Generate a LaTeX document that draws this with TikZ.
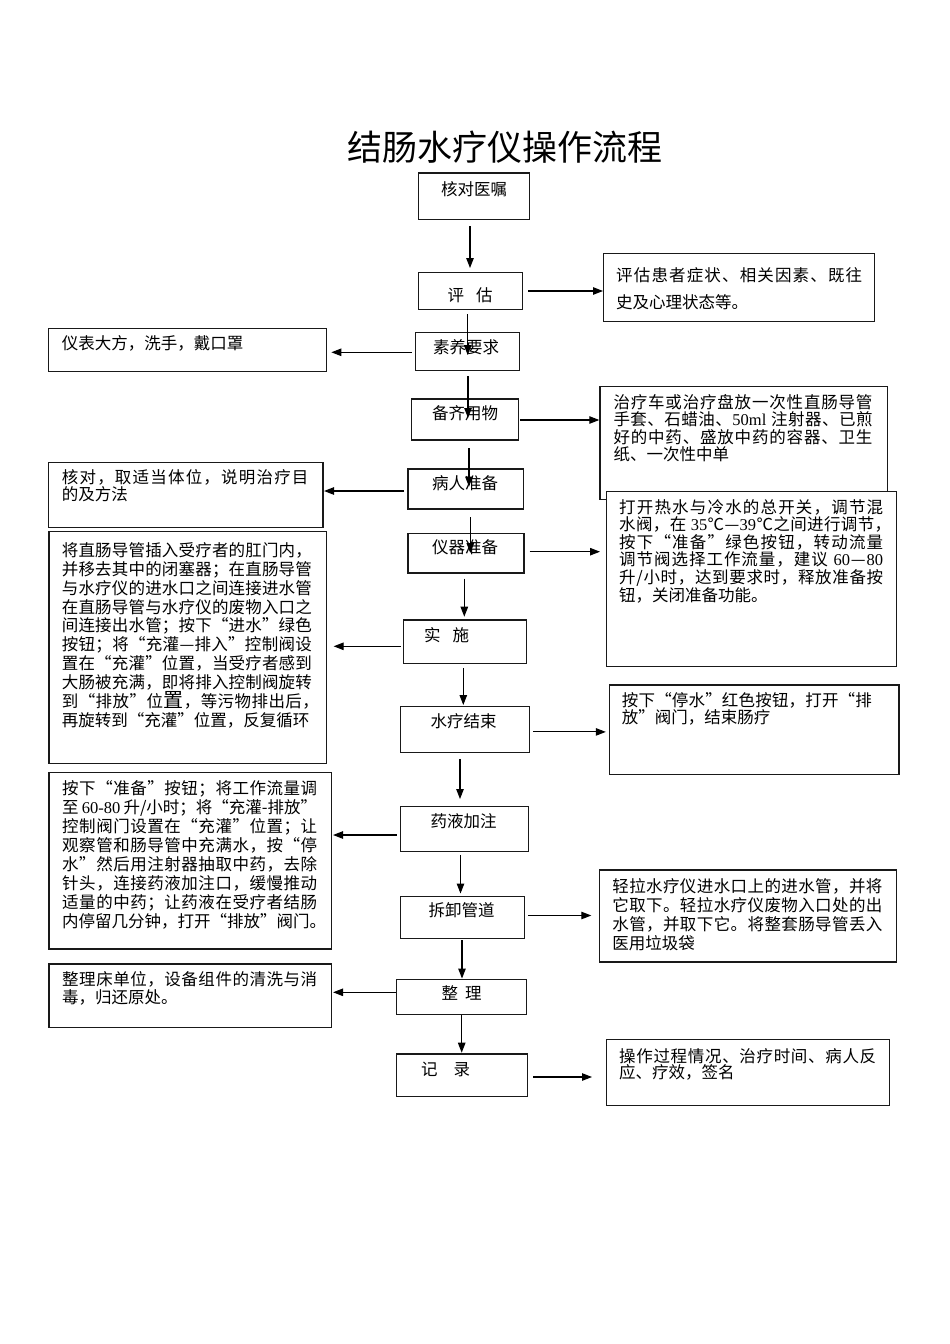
\documentclass[tikz,border=0pt]{standalone}
\usepackage{fontspec}
\setmainfont{Noto Sans CJK SC}
\newfontfamily\latf{Liberation Serif}
\usetikzlibrary{arrows.meta}
\newcommand\lat[1]{{\latf #1}}
% justified line: spreads its items over the given width
\def\jlx#1{#1\jly}
\def\jly#1{\ifx\relax#1\else\hfil#1\expandafter\jly\fi}
\newcommand\jl[2]{\hbox to #1pt{\jlx#2\relax}}
\newcommand\pl[1]{\hbox{#1}}
\newcommand\tl[2]{\vtop{\baselineskip=#1pt\relax\lineskiplimit=-20pt\relax #2}}
\tikzset{
  box/.style={draw=black!90, line width=1.35pt, fill=white, anchor=north west, inner sep=0pt},
  lab/.style={inner sep=0pt, anchor=base, font=\fontsize{16.5}{18}\selectfont},
  tx/.style={inner sep=0pt, anchor=base west, font=\fontsize{16.5}{18}\selectfont},
  arr/.style={-{Triangle[length=10pt,width=7.5pt]}, line width=1.05pt, draw=black}
}
\begin{document}
\begin{tikzpicture}[x=1pt,y=-1pt]
\fill[white] (0,0) rectangle (950,1344);
\useasboundingbox (0,0) rectangle (950,1344);

% title
\node[inner sep=0pt, anchor=base, font=\fontsize{35}{35}\selectfont] (title) at (505,160.5) {结肠水疗仪操作流程};

% middle boxes
\node[box, minimum width=111.3pt, minimum height=46.7pt] (m1) at (417.7,172.3) {};
\node[box, minimum width=104.3pt, minimum height=37pt] (m2) at (417.7,271.7) {};
\node[box, minimum width=104pt, minimum height=38.3pt] (m3) at (415,331.7) {};
\node[box, minimum width=106.7pt, minimum height=41pt] (m4) at (411,398.3) {};
\node[box, minimum width=115.4pt, minimum height=40pt] (m5) at (407.3,468.3) {};
\node[box, minimum width=116pt, minimum height=39.6pt] (m6) at (407.3,532.7) {};
\node[box, minimum width=123.3pt, minimum height=43.4pt] (m7) at (402.7,619.3) {};
\node[box, minimum width=129pt, minimum height=45.5pt] (m8) at (399.5,706) {};
\node[box, minimum width=128.5pt, minimum height=45.5pt] (m9) at (399.5,805.5) {};
\node[box, minimum width=124pt, minimum height=42pt] (m10) at (399.5,895.5) {};
\node[box, minimum width=130pt, minimum height=35.2pt] (m11) at (396,978.5) {};
\node[box, minimum width=131.5pt, minimum height=42.3pt] (m12) at (395.5,1053.3) {};

\node[lab] (m1t) at (474,195.3) {核对医嘱};
\node[lab] (m2t) at (470,301.3) {评\hspace{12pt}估};
\node[lab] (m3t) at (466,353) {素养要求};
\node[lab] (m4t) at (465,419.6) {备齐用物};
\node[lab] (m5t) at (465,489.6) {病人准备};
\node[lab] (m6t) at (465,553.6) {仪器准备};
\node[lab, anchor=base west] (m7t) at (424,641.3) {实\hspace{12pt}施};
\node[lab] (m8t) at (463.7,727) {水疗结束};
\node[lab] (m9t) at (463.5,827.3) {药液加注};
\node[lab] (m10t) at (461.7,916.8) {拆卸管道};
\node[lab] (m11t) at (461.7,999.6) {整\hspace{7pt}理};
\node[lab, anchor=base west] (m12t) at (421,1075.3) {记\hspace{16pt}录};

% right boxes
\node[box, minimum width=271pt, minimum height=68.3pt] (r1) at (603,252.7) {};
\node[tx] (r1t) at (616,281.3) {\tl{26.7}{\jl{246}{评估患者症状、相关因素、既往}\pl{史及心理状态等。}}};

\node[box, minimum width=287.4pt, minimum height=113.3pt] (r2) at (599.3,385.7) {};
\node[tx] (r2t) at (613.3,408) {\tl{17.5}{\jl{259}{治疗车或治疗盘放一次性直肠导管}\jl{259}{手套、石蜡油、{\lat{50ml}}{\ }注射器、已煎}\jl{259}{好的中药、盛放中药的容器、卫生}\pl{纸、一次性中单}}};

\node[box, minimum width=289.7pt, minimum height=175pt] (r3) at (606,490.7) {};
\node[tx] (r3t) at (619,513) {\tl{17.65}{\jl{264}{打开热水与冷水的总开关，调节混}\jl{272}{水阀，在{\ }{\lat{35}}℃—{\lat{39}}℃之间进行调节，}\jl{264}{按下“准备”绿色按钮，转动流量}\jl{264}{调节阀选择工作流量，建议{\ }{\lat{60}}—{\lat{80}}}\jl{264}{升/小时，达到要求时，释放准备按}\pl{钮，关闭准备功能。}}};

\node[box, minimum width=289.4pt, minimum height=89.9pt] (r4) at (608.8,684.2) {};
\node[tx] (r4t) at (621.7,706) {\tl{17.6}{\jl{250}{按下“停水”红色按钮，打开“排}\pl{放”阀门，结束肠疗}}};

\node[box, minimum width=297.4pt, minimum height=92pt] (r5) at (598.7,869.4) {};
\node[tx] (r5t) at (612.2,892.6) {\tl{18.9}{\jl{270}{轻拉水疗仪进水口上的进水管，并将}\jl{270}{它取下。轻拉水疗仪废物入口处的出}\jl{270}{水管，并取下它。将整套肠导管丢入}\pl{医用垃圾袋}}};

\node[box, minimum width=282.9pt, minimum height=65.9pt] (r6) at (605.8,1038.8) {};
\node[tx] (r6t) at (619,1062.6) {\tl{16}{\jl{257}{操作过程情况、治疗时间、病人反}\pl{应、疗效，签名}}};

% left boxes
\node[box, minimum width=277.7pt, minimum height=43pt] (l1) at (48,328) {};
\node[tx] (l1t) at (61.7,349.6) {仪表大方，洗手，戴口罩};

\node[box, minimum width=274.3pt, minimum height=65pt] (l2) at (48,461.7) {};
\node[tx] (l2t) at (61.7,483) {\tl{17.3}{\jl{246.6}{核对，取适当体位，说明治疗目}\pl{的及方法}}};

\node[box, minimum width=277.4pt, minimum height=231.7pt] (l3) at (48.3,531) {};
\node[tx] (l3t) at (61.7,556.3) {\tl{18.9}{\jl{250}{将直肠导管插入受疗者的肛门内，}\jl{250}{并移去其中的闭塞器；在直肠导管}\jl{250}{与水疗仪的进水口之间连接进水管}\jl{250}{在直肠导管与水疗仪的废物入口之}\jl{250}{间连接出水管；按下“进水”绿色}\jl{250}{按钮；将“充灌—排入”控制阀设}\jl{250}{置在“充灌”位置，当受疗者感到}\jl{250}{大肠被充满，即将排入控制阀旋转}\jl{257}{到“排放”位{{\fontsize{20}{20}\selectfont 置}}，等污物排出后，}\pl{再旋转到“充灌”位置，反复循环}}};

\node[box, minimum width=282.4pt, minimum height=176.6pt] (l4) at (48.3,771.7) {};
\node[tx] (l4t) at (62,794.6) {\tl{19}{\jl{255}{按下“准备”按钮；将工作流量调}\jl{255}{至{\ }{\lat{60-80}}{\ }升/小时；将“充灌-排放”}\jl{255}{控制阀门设置在“充灌”位置；让}\jl{255}{观察管和肠导管中充满水，按“停}\jl{255}{水”然后用注射器抽取中药，去除}\jl{255}{针头，连接药液加注口，缓慢推动}\jl{255}{适量的中药；让药液在受疗者结肠}\jl{257}{内停留几分钟，打开“排放”阀门。}}};

\node[box, minimum width=282.4pt, minimum height=63.4pt] (l5) at (48.3,963.3) {};
\node[tx] (l5t) at (62,985.6) {\tl{18}{\jl{255}{整理床单位，设备组件的清洗与消}\pl{毒，归还原处。}}};

% vertical arrows
\draw[arr, shorten <=6pt, shorten >=3.7pt] (m1.south -| 470,0) -- (m2.north -| 470,0);
\draw[arr, shorten <=4pt, shorten >=-23.3pt] (m2.south -| 467.7,0) -- (m3.north -| 467.7,0);
\draw[arr, shorten <=5pt, shorten >=-19.7pt] (m3.south -| 468,0) -- (m4.north -| 468,0);
\draw[arr, shorten <=7.4pt, shorten >=-18.4pt] (m4.south -| 469,0) -- (m5.north -| 469,0);
\draw[arr, shorten <=7.7pt, shorten >=-20.3pt] (m5.south -| 470.3,0) -- (m6.north -| 470.3,0);
\draw[arr, shorten <=5pt, shorten >=2.6pt] (m6.south -| 464.3,0) -- (m7.north -| 464.3,0);
\draw[arr, shorten <=4pt, shorten >=1pt] (m7.south -| 463.3,0) -- (m8.north -| 463.3,0);
\draw[arr, shorten <=6pt, shorten >=6.5pt] (m8.south -| 460,0) -- (m9.north -| 460,0);
\draw[arr, shorten <=2.5pt, shorten >=2pt] (m9.south -| 460.5,0) -- (m10.north -| 460.5,0);
\draw[arr, shorten <=1.5pt] (m10.south -| 462,0) -- (m11.north -| 462,0);
\draw[arr, shorten >=0.6pt] (m11.south -| 461.7,0) -- (m12.north -| 461.7,0);

% right arrows
\draw[arr, shorten <=5pt] (m2.east |- 0,291) -- (r1.west |- 0,291);
\draw[arr, shorten <=1.3pt] (m4.east |- 0,420) -- (r2.west |- 0,420);
\draw[arr, shorten <=5pt, shorten >=6pt] (m6.east |- 0,551.7) -- (r3.west |- 0,551.7);
\draw[arr, shorten <=3.5pt, shorten >=3pt] (m8.east |- 0,731.9) -- (r4.west |- 0,731.9);
\draw[arr, shorten <=3.5pt, shorten >=7.4pt] (m10.east |- 0,915.5) -- (r5.west |- 0,915.5);
\draw[arr, shorten <=5pt, shorten >=13.8pt] (m12.east |- 0,1077) -- (r6.west |- 0,1077);

% left arrows
\draw[arr, shorten <=3.3pt, shorten >=4.3pt] (m3.west |- 0,352.3) -- (l1.east |- 0,352.3);
\draw[arr, shorten <=3.3pt, shorten >=0.4pt] (m5.west |- 0,491) -- (l2.east |- 0,491);
\draw[arr, shorten <=2pt, shorten >=6.6pt] (m7.west |- 0,646.3) -- (l3.east |- 0,646.3);
\draw[arr, shorten <=2.8pt, shorten >=1pt] (m9.west |- 0,835) -- (l4.east |- 0,835);
\draw[arr, shorten >=1pt] (m11.west |- 0,992.3) -- (l5.east |- 0,992.3);
\end{tikzpicture}
\end{document}
